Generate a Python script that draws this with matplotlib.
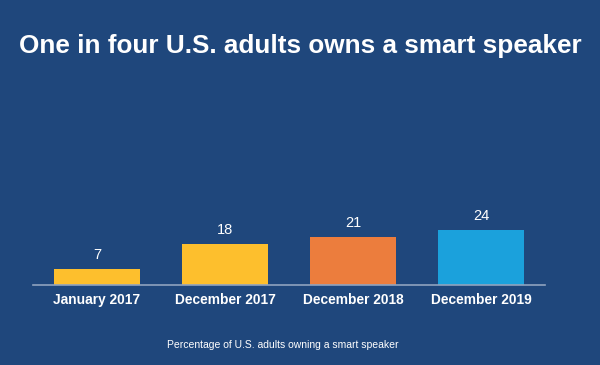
import matplotlib
matplotlib.use("Agg")
import matplotlib.pyplot as plt

categories = ["January 2017", "December 2017", "December 2018", "December 2019"]
values = [7, 18, 21, 24]
colors = ["#FDBF2D", "#FDBF2D", "#EC7D3D", "#1BA1DC"]

title = "One in four U.S. adults owns a smart speaker"
footnote = "Percentage of U.S. adults owning a smart speaker"
bg = "#1F477C"

plt.rcParams['font.family'] = ['Liberation Sans', 'DejaVu Sans']

fig = plt.figure(figsize=(6, 3.65), dpi=100, facecolor=bg)
ax = fig.add_axes([33/600, 80/365, 512/600, 185/365])
ax.set_facecolor(bg)
x = list(range(len(categories)))
ax.bar(x, values, width=0.67, color=colors, edgecolor="none", zorder=2)
for xi, v in zip(x, values):
    ax.annotate(str(v), (xi, v), xytext=(0, 5), textcoords="offset points",
                ha="center", va="bottom", color="white", fontsize=10.5)
ax.set_xlim(-0.5, 3.5)
ax.set_ylim(0, 80.8)
ax.set_xticks(x)
ax.set_xticklabels(categories, fontsize=9.9, fontweight="bold", color="white")
ax.tick_params(axis="x", length=0, pad=6)
ax.set_yticks([])
for s in ["top", "right", "left"]:
    ax.spines[s].set_visible(False)
ax.spines["bottom"].set_color("#8FA3BF")
ax.spines["bottom"].set_linewidth(1.2)

fig.text(0.5, 1 - 46/365, title, ha="center", va="center", color="white",
         fontsize=18.8, fontweight="bold")
fig.text(167/600, 1 - 345/365, footnote, ha="left", va="center", color="white",
         fontsize=7.45)

fig.savefig("out.png", dpi=100, facecolor=bg)
